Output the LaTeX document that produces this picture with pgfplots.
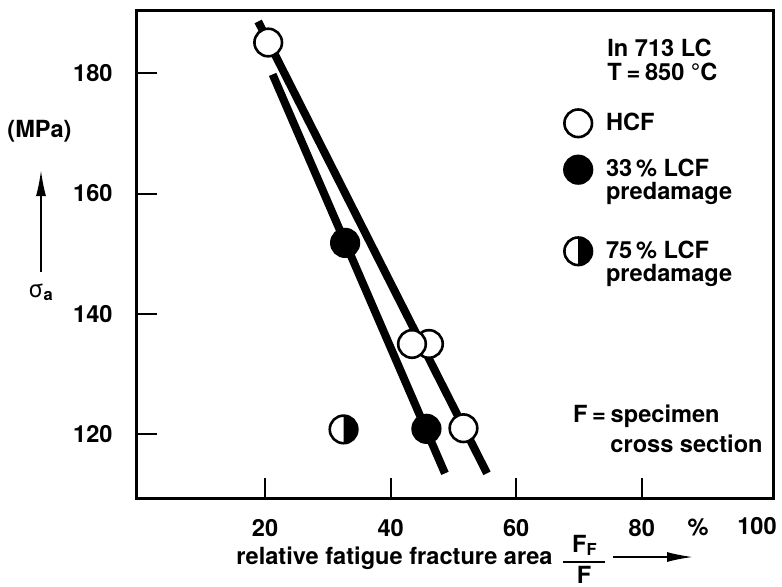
\documentclass[border=0pt]{standalone}
\usepackage{pgfplots}
\pgfplotsset{compat=1.18}
\usepackage{fontspec}
\setmainfont{TeX Gyre Heros}
\usetikzlibrary{arrows.meta}

\pgfdeclareplotmark{halfright}{%
  \pgfpathcircle{\pgfpointorigin}{\pgfplotmarksize}%
  \pgfsetfillcolor{white}%
  \pgfusepathqfillstroke
  \pgfpathmoveto{\pgfqpoint{0pt}{\pgfplotmarksize}}%
  \pgfpatharc{90}{-90}{\pgfplotmarksize}%
  \pgfpathclose
  \pgfsetfillcolor{black}%
  \pgfusepathqfill
}

\newcommand{\lblfont}{\fontsize{11.8}{10}\selectfont\bfseries}
\newcommand{\twoline}[2]{\begin{tabular}[t]{@{}l@{}}#1\\#2\end{tabular}}

\begin{document}
\begin{tikzpicture}[font=\lblfont]
\useasboundingbox (0pt,0pt) rectangle (391pt,-293pt);
\begin{axis}[
  at={(68.5pt,-249pt)}, anchor=south west,
  scale only axis, width=318pt, height=244pt,
  xmin=-0.4, xmax=100.9, ymin=109.4, ymax=190.5,
  clip=false,
  axis line style={line width=1.5pt},
  tick pos=left, tick align=inside,
  major tick length=10pt,
  every tick/.style={black, line width=1pt},
  xtick={20,40,60,80}, ytick={120,140,160,180},
  /pgf/number format/assume math mode=true,
  ticklabel style={font=\lblfont},
  xticklabel style={anchor=north, inner sep=0pt, yshift=-10.5pt},
  yticklabel style={anchor=east, inner sep=0pt, xshift=-12pt},
  legend style={at={(0.6714,0.797)}, anchor=north west, draw=none, fill=none,
    inner sep=0pt, row sep=9.4pt, column sep=7pt, font=\lblfont,
    nodes={inner sep=0pt}, cells={anchor=base west}},
  legend image code/.code={\draw[#1] plot coordinates {(0pt,3.5pt)};},
]
% regression lines
\addplot[line width=4pt, forget plot] coordinates {(18.9,188.6) (55.35,113.5)};
\addplot[line width=4pt, forget plot] coordinates {(21.2,179.8) (48.65,113.5)};
% data
\addplot[only marks, mark=*, mark size=6.9pt, mark options={fill=white, draw=black, line width=1.3pt}]
  coordinates {(20.5,185.1) (46.1,135) (43.4,135) (51.6,121)};
\addlegendentry{HCF}
\addplot[only marks, mark=*, mark size=6.9pt, mark options={fill=black, draw=black, line width=1.3pt}]
  coordinates {(32.75,151.8) (45.7,120.9)};
\addlegendentry{\twoline{33\,\% LCF}{predamage}}
\addplot[only marks, mark=halfright, mark size=6.9pt, mark options={draw=black, line width=1.3pt}]
  coordinates {(32.5,120.8)};
\addlegendentry{\twoline{\rule{0pt}{28pt}75\,\% LCF}{predamage}}
\end{axis}
\begin{scope}[x=0.5pt,y=-0.5pt]
% extra x tick labels
\node[anchor=north, inner sep=0pt] at (757,517) {100};
\node[anchor=north, inner sep=0pt] at (698,518) {\%};
% y label
\node[anchor=base, inner sep=0pt] at (39.5,137) {(MPa)};
\draw[line width=0.9pt, -{Latex[length=13pt,width=5pt]}] (41,272) -- (41,170);
\node[anchor=base west, inner sep=0pt] at (28,297) {{\mdseries σ}\textsubscript{a}};
% x label
\node[anchor=base east, inner sep=0pt] at (553,564) {relative fatigue fracture area};
\node[anchor=base, inner sep=0pt] at (585,552) {F\textsubscript{F}};
\draw[line width=0.9pt] (563,562) -- (605,562);
\node[anchor=base, inner sep=0pt] at (584,583) {F};
\draw[line width=0.9pt, -{Latex[length=13pt,width=5pt]}] (613,557) -- (693,557);
% annotations
\node[anchor=base west, inner sep=0pt] at (607,56) {In 713 LC};
\node[anchor=base west, inner sep=0pt] at (607,80) {T\hspace{0.2em}=\hspace{0.2em}850 °C};
\node[anchor=base east, inner sep=0pt] at (720,422) {F\hspace{0.2em}=\hspace{0.2em}specimen};
\node[anchor=base east, inner sep=0pt] at (763,452) {cross section};
\end{scope}
\end{tikzpicture}
\end{document}
